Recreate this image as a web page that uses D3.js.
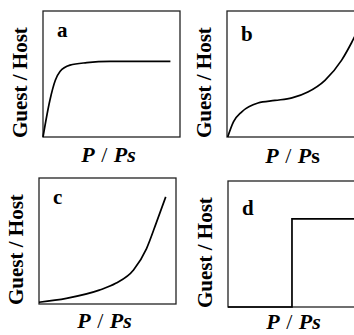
<!DOCTYPE html>
<html lang="en">
<head>
  <meta charset="UTF-8">
  <title>Isotherm types</title>
  <script src="https://d3js.org/d3.v7.min.js"></script>
  <style>
    body { margin: 0; background: #fff; }
    svg { display: block; }
    .lab { font-family: 'Liberation Serif', 'Times New Roman', serif; font-weight: bold; fill: #000; }
  </style>
</head>
<body>
<div id="chart"></div>
<script>
  // panel letters
  var letters = ['a', 'b', 'c', 'd'];

  // curve points, x = P/Ps (0-1), y = Guest/Host (0-1)
  var xA = [0, 0.05, 0.09, 0.124, 0.197, 0.32, 0.49, 0.93];
  var yA = [0, 0.29, 0.45, 0.52, 0.57, 0.59, 0.60, 0.60];

  var xB = [0.005, 0.047, 0.108, 0.226, 0.35, 0.474, 0.59, 0.715, 0.837, 0.91, 0.97];
  var yB = [0, 0.12, 0.2, 0.27, 0.29, 0.31, 0.357, 0.45, 0.61, 0.75, 0.88];

  var xC = [0, 0.2, 0.44, 0.56, 0.69, 0.785, 0.858, 0.925];
  var yC = [0.014, 0.045, 0.11, 0.164, 0.27, 0.44, 0.65, 0.85];

  // step isotherm
  var xD = [0, 0.467, 0.467, 1];
  var yD = [0, 0, 0.70, 0.70];

  var series = [[xA, yA], [xB, yB], [xC, yC], [xD, yD]];

  // frame positions
  var FRAMES = [
    {x: 43, y: 11, w: 137, h: 126},
    {x: 227, y: 11, w: 137, h: 126},
    {x: 39, y: 178, w: 137, h: 126},
    {x: 228, y: 181, w: 137, h: 126}
  ];
  var letterDy = [26, 30, 26, 34];
  var xLabelDy = [25, 26, 24, 22];
  var uprightS = [false, true, false, false];

  var svg = d3.select('#chart').append('svg')
    .attr('width', 354)
    .attr('height', 335);

  svg.append('rect').attr('width', 354).attr('height', 335).attr('fill', '#fff');

  letters.forEach(function (letter, i) {
    var f = FRAMES[i];
    var xScale = d3.scaleLinear().domain([0, 1]).range([f.x, f.x + f.w]);
    var yScale = d3.scaleLinear().domain([0, 1]).range([f.y + f.h, f.y]);
    var pts = series[i][0].map(function (v, j) { return [v, series[i][1][j]]; });

    var g = svg.append('g');

    // frame
    g.append('rect')
      .attr('x', f.x).attr('y', f.y)
      .attr('width', f.w).attr('height', f.h)
      .attr('fill', 'none')
      .attr('stroke', '#222')
      .attr('stroke-width', 1.3);

    var line = d3.line()
      .x(function (d) { return xScale(d[0]); })
      .y(function (d) { return yScale(d[1]); })
      .curve(i === 3 ? d3.curveLinear : d3.curveMonotoneX);

    g.append('path')
      .datum(pts)
      .attr('d', line)
      .attr('fill', 'none')
      .attr('stroke', '#000')
      .attr('stroke-width', 1.7);

    // panel letter
    g.append('text')
      .attr('class', 'lab')
      .attr('x', f.x + 14)
      .attr('y', f.y + letterDy[i])
      .style('font-size', '21px')
      .text(letter);

    // y label
    g.append('text')
      .attr('class', 'lab')
      .attr('transform', 'translate(' + (f.x - 16) + ',' + (f.y + f.h + 1) + ') rotate(-90)')
      .style('font-size', '21px')
      .text('Guest / Host');

    // x label
    var xl = g.append('text')
      .attr('class', 'lab')
      .attr('x', f.x + f.w / 2 - 3)
      .attr('y', f.y + f.h + xLabelDy[i])
      .attr('text-anchor', 'middle')
      .style('font-size', '22px');
    xl.append('tspan').style('font-style', 'italic').text('P');
    xl.append('tspan').attr('dx', 1).style('font-weight', 'normal').text(' / ');
    xl.append('tspan').attr('dx', 1).style('font-style', 'italic').text('P');
    xl.append('tspan').style('font-style', uprightS[i] ? 'normal' : 'italic').text('s');
  });
</script>
</body>
</html>
